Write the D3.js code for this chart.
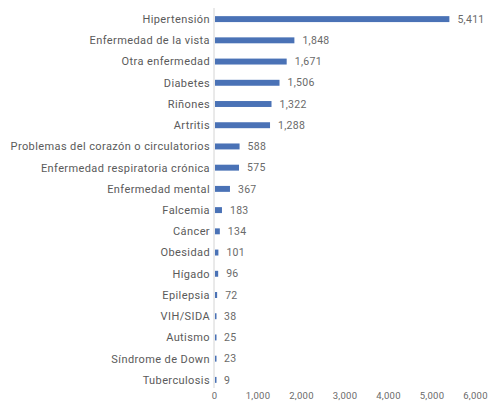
<!DOCTYPE html>
<html>
<head>
<meta charset="utf-8">
<script src="https://cdn.jsdelivr.net/npm/d3@7"></script>
<style>
body { margin: 0; background: #fff; }
text { font-family: Roboto, "Noto Sans", sans-serif; }
</style>
</head>
<body>
<div id="chart-area"></div>
<script>
var categories = ["Hipertensión", "Enfermedad de la vista", "Otra enfermedad", "Diabetes", "Riñones", "Artritis",
    "Problemas del corazón o circulatorios", "Enfermedad respiratoria crónica", "Enfermedad mental", "Falcemia",
    "Cáncer", "Obesidad", "Hígado", "Epilepsia", "VIH/SIDA", "Autismo", "Síndrome de Down", "Tuberculosis"];
var values = [5411, 1848, 1671, 1506, 1322, 1288, 588, 575, 367, 183, 134, 101, 96, 72, 38, 25, 23, 9];
var xTicks = [0, 1000, 2000, 3000, 4000, 5000, 6000];

var W = 488, H = 409;
var svg = d3.select("#chart-area").append("svg") // chart area
    .attr("width", W)
    .attr("height", H);

var left = 214;
var x = d3.scaleLinear()
    .domain([0, 6000])
    .range([left, left + 261]);

var y = d3.scaleBand()
    .domain(categories)
    .range([8.5, 390.5])
    .paddingInner(0.72)
    .paddingOuter(0.36);

var fmt = d3.format(",");

// vertical baseline
svg.append("line")
    .attr("x1", x(0)).attr("x2", x(0))
    .attr("y1", 8).attr("y2", 388)
    .attr("stroke", "#d4d4d4")
    .attr("stroke-width", 1);

svg.selectAll("rect.bar")
    .data(values)
    .enter()
    .append("rect")
        .attr("class", "bar")
        .attr("x", x(0) + 1)
        .attr("y", (d, i) => y(categories[i]))
        .attr("width", (d) => Math.max(x(d) - x(0) - 1, 1.5))
        .attr("height", y.bandwidth())
        .attr("fill", "#4a72b6");

// category labels
svg.selectAll("text.cat")
    .data(categories)
    .enter()
    .append("text")
        .attr("class", "cat")
        .attr("x", x(0) - 4)
        .attr("y", (d) => y(d) + y.bandwidth() / 2)
        .attr("dy", "0.35em")
        .attr("text-anchor", "end")
        .attr("font-size", 11)
        .attr("letter-spacing", 0.4)
        .attr("fill", "#5a5a5a")
        .text((d) => d);

// value labels
svg.selectAll("text.val")
    .data(values)
    .enter()
    .append("text")
        .attr("class", "val")
        .attr("x", (d) => Math.max(x(d), x(0) + 2) + 8)
        .attr("y", (d, i) => y(categories[i]) + y.bandwidth() / 2)
        .attr("dy", "0.35em")
        .attr("font-size", 10.5)
        .attr("letter-spacing", 0.3)
        .attr("fill", "#6a6a6a")
        .text((d) => fmt(d));

// x axis
var xAxis = d3.axisBottom(x)
    .tickValues(xTicks)
    .tickFormat(fmt)
    .tickSize(0)
    .tickPadding(0);

var gx = svg.append("g")
    .attr("transform", "translate(0,392)")
    .call(xAxis);
gx.select(".domain").remove();
gx.selectAll("text")
    .attr("font-size", 9.5)
    .attr("letter-spacing", 0.3)
    .attr("font-family", "Roboto, 'Noto Sans', sans-serif")
    .attr("fill", "#6a6a6a");
</script>
</body>
</html>
